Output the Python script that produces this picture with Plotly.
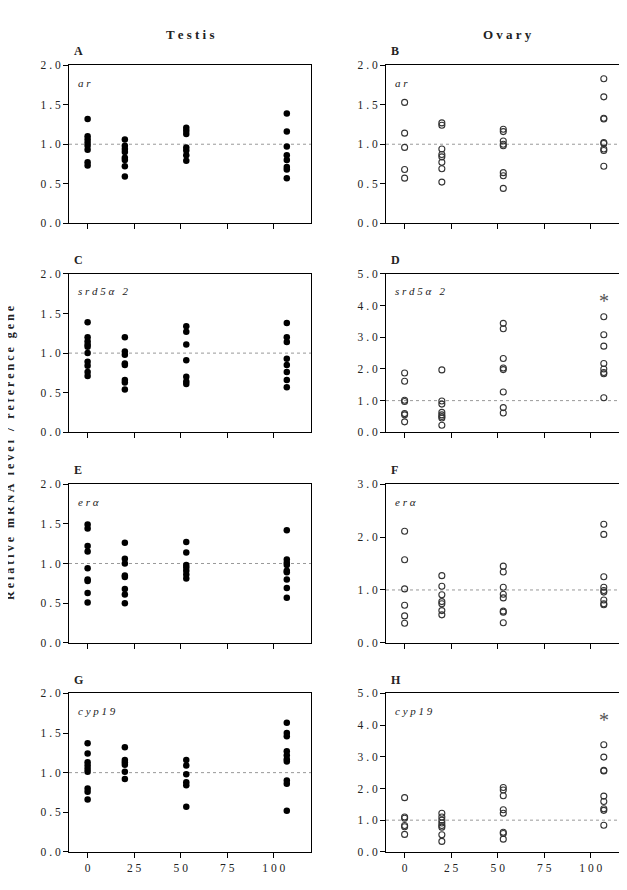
import plotly.graph_objects as go

# ---------------- data ----------------
doses = [0, 20, 53, 107]
x_tickvals = [0, 25, 50, 75, 100]
x_ticklabels = ["0", "25", "50", "75", "100"]

col_titles = ["Testis", "Ovary"]
panel_letters = ["A", "B", "C", "D", "E", "F", "G", "H"]
gene_labels = ["ar", "ar", "srd5α 2", "srd5α 2", "erα", "erα", "cyp19", "cyp19"]

# values per dose group (0, 20, 53, 107)
A_testis_ar = [[1.32, 1.10, 1.06, 1.02, 0.98, 0.93, 0.77, 0.73],
               [1.06, 0.98, 0.94, 0.90, 0.83, 0.80, 0.72, 0.59],
               [1.21, 1.17, 1.13, 0.96, 0.92, 0.86, 0.79],
               [1.39, 1.16, 0.97, 0.86, 0.80, 0.71, 0.68, 0.57]]
B_ovary_ar = [[1.53, 1.14, 0.96, 0.68, 0.57],
              [1.27, 1.24, 0.94, 0.87, 0.84, 0.77, 0.69, 0.52],
              [1.19, 1.16, 1.04, 1.00, 0.98, 0.64, 0.60, 0.44],
              [1.83, 1.60, 1.33, 1.32, 1.02, 1.01, 0.94, 0.92, 0.72]]
C_testis_srd = [[1.39, 1.20, 1.15, 1.11, 1.08, 1.00, 0.89, 0.84, 0.76, 0.71],
                [1.20, 1.02, 0.98, 0.87, 0.85, 0.66, 0.63, 0.54],
                [1.34, 1.27, 1.11, 0.91, 0.70, 0.64, 0.61],
                [1.38, 1.20, 1.14, 0.93, 0.85, 0.76, 0.66, 0.57]]
D_ovary_srd = [[1.87, 1.61, 1.01, 0.97, 0.59, 0.55, 0.33],
               [1.97, 0.99, 0.89, 0.63, 0.55, 0.50, 0.45, 0.22],
               [3.44, 3.27, 2.33, 2.03, 1.98, 1.27, 0.78, 0.61],
               [3.65, 3.08, 2.72, 2.17, 2.00, 1.89, 1.85, 1.09]]
E_testis_er = [[1.49, 1.44, 1.22, 1.15, 0.94, 0.80, 0.78, 0.63, 0.51],
               [1.26, 1.06, 1.00, 0.85, 0.83, 0.68, 0.61, 0.50],
               [1.27, 1.14, 0.98, 0.95, 0.91, 0.86, 0.81],
               [1.42, 1.05, 1.01, 0.98, 0.91, 0.89, 0.80, 0.69, 0.57]]
F_ovary_er = [[2.11, 1.57, 1.02, 0.71, 0.51, 0.37],
              [1.27, 1.07, 0.91, 0.78, 0.74, 0.61, 0.53],
              [1.45, 1.34, 1.05, 0.92, 0.85, 0.60, 0.58, 0.38],
              [2.24, 2.05, 1.25, 1.05, 0.99, 0.96, 0.81, 0.74, 0.72]]
G_testis_cyp = [[1.37, 1.24, 1.13, 1.09, 1.05, 1.01, 0.80, 0.76, 0.66],
                [1.32, 1.16, 1.13, 1.10, 1.01, 0.92],
                [1.16, 1.09, 0.98, 0.88, 0.84, 0.57],
                [1.63, 1.50, 1.46, 1.27, 1.22, 1.17, 1.14, 0.90, 0.86, 0.52]]
H_ovary_cyp = [[1.71, 1.10, 1.06, 0.83, 0.79, 0.55],
               [1.22, 1.10, 1.00, 0.91, 0.83, 0.78, 0.54, 0.33],
               [2.03, 1.95, 1.77, 1.33, 1.22, 0.62, 0.58, 0.40],
               [3.38, 2.99, 2.57, 2.55, 1.76, 1.59, 1.36, 1.31, 0.84]]

panels = [A_testis_ar, B_ovary_ar, C_testis_srd, D_ovary_srd,
          E_testis_er, F_ovary_er, G_testis_cyp, H_ovary_cyp]

y_ticks_2 = [0, 0.5, 1.0, 1.5, 2.0]
y_ticks_3 = [0, 1.0, 2.0, 3.0]
y_ticks_5 = [0, 1.0, 2.0, 3.0, 4.0, 5.0]
panel_yticks = [y_ticks_2, y_ticks_2, y_ticks_2, y_ticks_5,
                y_ticks_2, y_ticks_3, y_ticks_2, y_ticks_5]
panel_ymax = [2.0, 2.0, 2.0, 5.0, 2.0, 3.0, 2.0, 5.0]
star_panels = [3, 7]       # D and H
star_value = 4.15
ref_level = 1.0

# ---------------- layout geometry ----------------
W, H = 627, 890
col_px = [(61, 303), (378, 620)]
row_px = [(52, 212), (263.5, 424), (476.5, 637.5), (688.7, 849.3)]

SERIF = "Liberation Serif, Times New Roman, DejaVu Serif, serif"
TXT = "#222222"
TS = " "


def sp(s, sep=TS):
    return sep.join(list(s))


fig = go.Figure()
layout = dict(
    width=W, height=H,
    margin=dict(l=0, r=0, t=0, b=0),
    paper_bgcolor="white", plot_bgcolor="white",
    showlegend=False,
    font=dict(family=SERIF, color=TXT, size=11),
)
annotations = []
shapes = []

for i, groups in enumerate(panels):
    r, c = divmod(i, 2)
    n = i + 1
    xa = "x" if n == 1 else f"x{n}"
    ya = "y" if n == 1 else f"y{n}"
    xs, ys = [], []
    for d, vals in zip(doses, groups):
        xs += [d] * len(vals)
        ys += vals
    if c == 0:
        marker = dict(symbol="circle", size=6.5, color="black",
                      line=dict(width=0))
    else:
        marker = dict(symbol="circle-open", size=6, color="#333333",
                      line=dict(width=1.1))
    fig.add_trace(go.Scatter(x=xs, y=ys, mode="markers", marker=marker,
                             xaxis=xa, yaxis=ya, hoverinfo="skip"))

    x0, x1 = col_px[c]
    yt, yb = row_px[r]
    bottom = (r == 3)
    yt_vals = panel_yticks[i]
    layout["xaxis" if n == 1 else f"xaxis{n}"] = dict(
        domain=[x0 / W, x1 / W], anchor=ya, range=[-10, 120],
        tickvals=x_tickvals, ticktext=[sp(t) for t in x_ticklabels],
        showticklabels=bottom, ticks="outside", ticklen=5, tickwidth=1,
        tickcolor="black", showline=True, mirror=True, linecolor="black",
        linewidth=1, showgrid=False, zeroline=False,
        tickfont=dict(family=SERIF, size=11.5, color=TXT),
    )
    layout["yaxis" if n == 1 else f"yaxis{n}"] = dict(
        domain=[1 - yb / H, 1 - yt / H], anchor=xa,
        range=[0, panel_ymax[i]],
        tickvals=yt_vals, ticktext=[sp(f"{v:.1f}") for v in yt_vals],
        ticks="outside", ticklen=5, tickwidth=1, tickcolor="black",
        showline=True, mirror=True, linecolor="black", linewidth=1,
        showgrid=False, zeroline=False,
        tickfont=dict(family=SERIF, size=11.5, color=TXT),
    )
    # reference dotted line
    shapes.append(dict(type="line", xref=f"{xa} domain", yref=ya,
                       x0=0, x1=1, y0=ref_level, y1=ref_level,
                       line=dict(color="#999999", width=1, dash="dot"),
                       layer="below"))
    # panel letter
    annotations.append(dict(text=f"<b>{panel_letters[i]}</b>", xref="paper",
                            yref="paper", x=(x0 + 3) / W, y=1 - (yt - 14) / H,
                            xanchor="left", yanchor="middle", showarrow=False,
                            font=dict(family=SERIF, size=12, color=TXT)))
    # gene label
    annotations.append(dict(text=f"<i>{sp(gene_labels[i])}</i>",
                            xref=f"{xa} domain", yref=f"{ya} domain",
                            x=0.03, y=0.89, xanchor="left", yanchor="middle",
                            showarrow=False,
                            font=dict(family=SERIF, size=11, color=TXT)))
    if i in star_panels:
        annotations.append(dict(text="*", xref=xa, yref=ya, x=doses[3],
                                y=star_value, xanchor="center",
                                yanchor="middle", showarrow=False,
                                font=dict(family=SERIF, size=20,
                                          color="#555555")))

# column titles
for c, t in enumerate(col_titles):
    x0, x1 = col_px[c]
    annotations.append(dict(text=f"<b>{sp(t)}</b>", xref="paper",
                            yref="paper", x=(x0 + x1) / 2 / W, y=1 - 21 / H,
                            xanchor="center", yanchor="middle",
                            showarrow=False,
                            font=dict(family=SERIF, size=13, color=TXT)))

# axis titles
annotations.append(dict(
    text="<b>" + sp("Relative mRNA level / reference gene") + "</b>",
    xref="paper", yref="paper", x=2 / W, y=1 - 445 / H, textangle=-90,
    xanchor="center", yanchor="middle", showarrow=False,
    font=dict(family=SERIF, size=12, color=TXT)))
annotations.append(dict(
    text="<b>" + sp("KClO") + "<sub>4</sub>" + TS + " " + sp("(mg/L)") + "</b>",
    xref="paper", yref="paper", x=342 / W, y=1 - 884 / H,
    xanchor="center", yanchor="top", showarrow=False,
    font=dict(family=SERIF, size=13, color=TXT)))

layout["annotations"] = annotations
layout["shapes"] = shapes
fig.update_layout(**layout)
fig.write_html("out.html")
